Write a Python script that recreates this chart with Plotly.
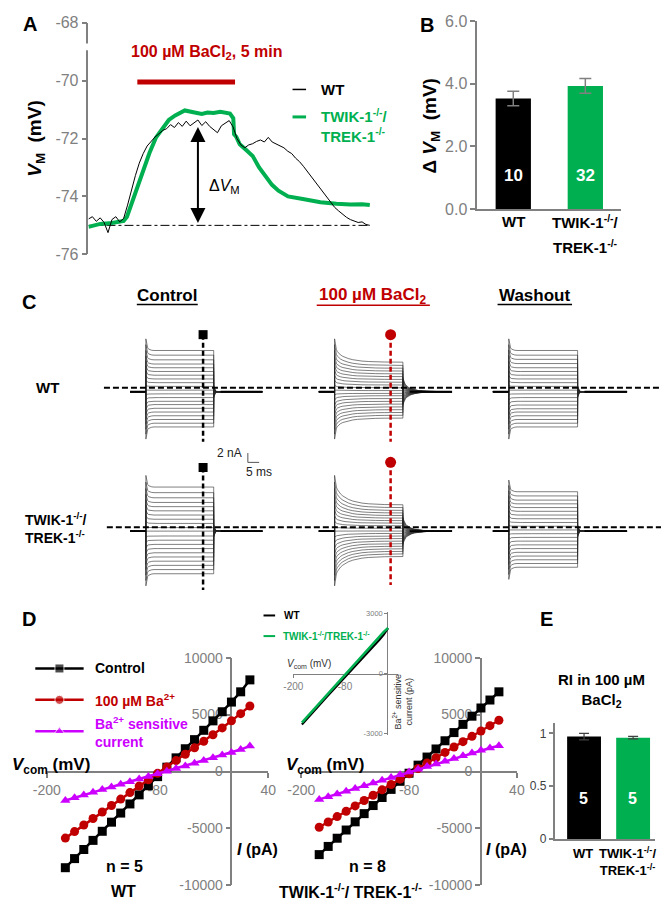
import plotly.graph_objects as go

W, H = 669, 913
def X(px): return px / W
def Y(py): return 1 - py / H

RED = '#C00000'; GREEN = '#00B050'; MAG = '#CC00FF'; GRAY = '#808080'
FONT = 'Liberation Sans, Arial, sans-serif'

# ---------------- Panel A data (membrane potential, mV vs time, min) ----------------
wt_t = [round(i * 0.2, 1) for i in range(73)]
wt_vm = [-74.78, -74.70, -74.86, -74.74, -74.90, -75.25, -74.80, -74.70, -74.88, -74.76,
         -74.30, -73.75, -73.28, -72.85, -72.52, -72.26, -72.10, -71.95, -71.84, -71.72,
         -71.66, -71.52, -71.62, -71.45, -71.58, -71.40, -71.56, -71.46, -71.36, -71.55,
         -71.42, -71.58, -71.70, -71.80, -71.56, -71.46, -71.38, -71.60, -72.00, -72.22,
         -72.32, -72.22, -72.18, -72.10, -72.05, -72.12, -71.96, -72.12, -72.18, -72.26,
         -72.32, -72.44, -72.52, -72.68, -72.80, -72.96, -73.14, -73.32, -73.50, -73.70,
         -73.88, -74.06, -74.22, -74.38, -74.50, -74.62, -74.72, -74.80, -74.84, -74.90,
         -74.88, -74.97, -75.00]
ko_t = [0, 0.6, 1.2, 1.8, 1.97, 2.13, 2.46, 2.79, 3.12, 3.45, 3.78, 4.11, 4.44, 4.93, 5.43,
        5.8, 6.09, 6.4, 6.75, 7.0, 7.24, 7.41, 7.45, 7.57, 7.74, 8.07, 8.4, 8.73, 9.06, 9.39,
        9.72, 10.21, 11.04, 11.87, 12.69, 13.4, 14.0, 14.4]
ko_vm = [-75.05, -74.95, -74.92, -74.85, -74.70, -74.40, -73.75, -73.10, -72.50, -71.97,
         -71.64, -71.36, -71.20, -71.03, -71.10, -71.15, -71.10, -71.12, -71.08, -71.12,
         -71.14, -71.30, -71.85, -71.95, -72.20, -72.40, -72.60, -73.00, -73.30, -73.60,
         -73.80, -74.00, -74.10, -74.20, -74.25, -74.28, -74.27, -74.30]
a_baseline_mV = -75.0
ba_application_min = [2.5, 7.5]
ba_bar_level = -70.05
dv_time_min = 5.6
dv_peak_mV = -71.55

# ---------------- Panel B data ----------------
b_vals = [3.53, 3.93]
b_err = [0.23, 0.235]
b_n = ['10', '32']

# ---------------- Panel C data (representative sweeps, nA) ----------------
holding_nA = -0.85
step_on_ms, step_off_ms, sweep_end_ms = 7.0, 37.0, 58.6
wt_ctrl_nA = [-8.4, -7.6, -6.8, -6.0, -5.2, -4.4, -3.6, -2.9, -2.1, -1.3, -0.5, 0.3, 1.1, 1.9, 2.7, 3.5, 4.3, 5.1, 6.0, 7.0, 8.0]
wt_ba_nA = [-6.5, -5.9, -5.3, -4.7, -4.1, -3.5, -2.9, -2.3, -1.7, -1.2, -0.6, 0.0, 0.6, 1.2, 1.8, 2.4, 3.0, 3.6, 4.2, 4.8, 5.5]
wt_wash_nA = [-8.4, -7.6, -6.8, -6.0, -5.2, -4.5, -3.7, -2.9, -2.1, -1.3, -0.5, 0.3, 1.1, 1.9, 2.7, 3.5, 4.3, 5.2, 6.1, 7.0, 8.0]
ko_ctrl_nA = [-10.0, -9.1, -8.2, -7.3, -6.4, -5.5, -4.6, -3.7, -2.8, -1.9, -1.0, -0.1, 0.8, 1.7, 2.6, 3.5, 4.4, 5.3, 6.3, 7.4, 8.6]
ko_ba_nA = [-6.3, -5.75, -5.2, -4.65, -4.1, -3.55, -3.0, -2.45, -1.9, -1.35, -0.8, -0.25, 0.3, 0.85, 1.4, 1.95, 2.5, 3.05, 3.6, 4.2, 4.8]
ko_wash_nA = [-8.6, -7.8, -7.0, -6.2, -5.4, -4.6, -3.8, -3.0, -2.2, -1.4, -0.6, 0.2, 1.0, 1.8, 2.6, 3.4, 4.2, 5.0, 5.8, 6.7, 7.6]
cap_peak_nA = [-2.6, -2.34, -2.08, -1.82, -1.56, -1.3, -1.04, -0.78, -0.52, -0.26, 0.0, 0.25, 0.5, 0.75, 1.0, 1.25, 1.5, 1.75, 2.0, 2.25, 2.5]
step_t = [0, 0.25, 0.5, 0.8, 1.2, 1.8, 2.6, 3.6, 5, 6, 8, 10, 12, 15, 18, 22, 30]
cap_frac = [1, 0.6, 0.38, 0.22, 0.12, 0.06, 0.02, 0, 0, 0, 0, 0, 0, 0, 0, 0, 0]
ba_frac = [1, 0.95, 0.9, 0.85, 0.79, 0.7, 0.6, 0.5, 0.38, 0.31, 0.21, 0.14, 0.095, 0.055, 0.03, 0.012, 0]
no_frac = [0] * 17
tail_t = [0, 0.25, 0.5, 0.8, 1.2, 1.8, 2.6, 3.6, 5, 7, 9, 12, 15, 18, 21.6]
tail_frac_ctrl = [1, 0.55, 0.3, 0.15, 0.07, 0.02, 0, 0, 0, 0, 0, 0, 0, 0, 0]
tail_frac_ba = [1, 0.85, 0.74, 0.62, 0.5, 0.4, 0.3, 0.22, 0.14, 0.08, 0.045, 0.02, 0.008, 0.002, 0]
tail_gain_ctrl, tail_gain_ba = -0.5, -1.15
iv_time_ms = 32.3

# ---------------- Panel D data (I-V, pA) ----------------
v_com = [-180, -170, -160, -150, -140, -130, -120, -110, -100, -90, -80, -70, -60, -50, -40, -30, -20, -10, 0, 10, 20]
wt_ctrl_pA = [-8450, -7650, -6850, -6050, -5250, -4450, -3650, -2850, -2050, -1250, -450, 380, 1200, 2000, 2800, 3620, 4450, 5250, 6100, 7000, 8050]
wt_ba_pA = [-5850, -5280, -4700, -4130, -3560, -2990, -2420, -1850, -1280, -720, -160, 400, 960, 1520, 2080, 2650, 3230, 3830, 4450, 5080, 5750]
wt_sens_pA = [-2550, -2300, -2060, -1820, -1580, -1350, -1120, -890, -660, -430, -200, 30, 260, 490, 720, 960, 1200, 1440, 1680, 1930, 2250]
ko_ctrl_pA = [-7300, -6580, -5860, -5140, -4420, -3700, -2990, -2280, -1570, -860, -150, 560, 1270, 1980, 2700, 3420, 4140, 4860, 5580, 6280, 7000]
ko_ba_pA = [-4900, -4430, -3960, -3490, -3020, -2550, -2080, -1610, -1140, -670, -200, 270, 740, 1210, 1680, 2150, 2620, 3090, 3560, 4030, 4500]
ko_sens_pA = [-2450, -2210, -1970, -1730, -1490, -1250, -1010, -770, -530, -290, -50, 190, 430, 670, 910, 1150, 1390, 1630, 1870, 2070, 2260]

# ---------------- Panel E data ----------------
e_vals = [0.97, 0.96]
e_err = [0.03, 0.012]
e_n = ['5', '5']

fig = go.Figure()

# ---- Panel A ----
fig.add_trace(go.Scatter(x=[0, wt_t[-1]], y=[a_baseline_mV, a_baseline_mV], mode='lines',
                         line=dict(color='black', width=1, dash='dashdot'), xaxis='x', yaxis='y'))
fig.add_trace(go.Scatter(x=ko_t, y=ko_vm, mode='lines', line=dict(color=GREEN, width=4), xaxis='x', yaxis='y'))
fig.add_trace(go.Scatter(x=wt_t, y=wt_vm, mode='lines', line=dict(color='black', width=1), xaxis='x', yaxis='y'))
fig.add_trace(go.Scatter(x=ba_application_min, y=[ba_bar_level] * 2, mode='lines',
                         line=dict(color=RED, width=5), xaxis='x', yaxis='y'))

# ---- Panel B ----
fig.add_trace(go.Bar(x=[0, 1], y=b_vals, width=0.49, marker=dict(color=['black', GREEN], line=dict(width=0)),
                     error_y=dict(type='data', array=b_err, color=GRAY, thickness=1.5, width=6),
                     xaxis='x2', yaxis='y2'))

# ---- Panel C ----
def sweep_family(steady, initial, step_frac, tail_gain, tail_frac):
    xs, ys = [], []
    for i in range(len(steady)):
        xs += [0, step_on_ms]
        ys += [holding_nA, holding_nA]
        for t, fc, fb in zip(step_t, cap_frac, step_frac):
            xs.append(step_on_ms + t)
            ys.append(steady[i] + (initial[i] - steady[i]) * fb + cap_peak_nA[i] * fc)
        for t, ft in zip(tail_t, tail_frac):
            xs.append(step_off_ms + t)
            ys.append(holding_nA + tail_gain * cap_peak_nA[i] * ft)
        xs.append(None); ys.append(None)
    return xs, ys

families = [
    ('x3', 'y3', wt_ctrl_nA, wt_ctrl_nA, no_frac, tail_gain_ctrl, tail_frac_ctrl),
    ('x4', 'y4', wt_ba_nA, wt_ctrl_nA, ba_frac, tail_gain_ba, tail_frac_ba),
    ('x5', 'y5', wt_wash_nA, wt_wash_nA, no_frac, tail_gain_ctrl, tail_frac_ctrl),
    ('x6', 'y6', ko_ctrl_nA, ko_ctrl_nA, no_frac, tail_gain_ctrl, tail_frac_ctrl),
    ('x7', 'y7', ko_ba_nA, ko_ctrl_nA, ba_frac, tail_gain_ba, tail_frac_ba),
    ('x8', 'y8', ko_wash_nA, ko_wash_nA, no_frac, tail_gain_ctrl, tail_frac_ctrl),
]
for xa, ya, st, ini, sf, tg, tf in families:
    xs, ys = sweep_family(st, ini, sf, tg, tf)
    fig.add_trace(go.Scatter(x=xs, y=ys, mode='lines', line=dict(color='#2a2a2a', width=0.6),
                             xaxis=xa, yaxis=ya))
    fig.add_trace(go.Scatter(x=[0, step_on_ms, None, step_off_ms + 3, sweep_end_ms],
                             y=[holding_nA, holding_nA, None, holding_nA, holding_nA], mode='lines',
                             line=dict(color='black', width=1.8), xaxis=xa, yaxis=ya))

# IV measurement markers (vertical dashed lines)
markers = [('x3', 'y3', 11.4, -11.6, 'square', 'black'),
           ('x4', 'y4', 11.4, -11.6, 'circle', RED),
           ('x6', 'y6', 12.8, -13.5, 'square', 'black'),
           ('x7', 'y7', 13.9, -12.4, 'circle', RED)]
for xa, ya, top, bot, sym, col in markers:
    tt = iv_time_ms if sym == 'square' else iv_time_ms - 0.7
    fig.add_trace(go.Scatter(x=[tt, tt], y=[top, bot], mode='lines',
                             line=dict(color=col, width=2.5, dash='5px,3px'), xaxis=xa, yaxis=ya))
    fig.add_trace(go.Scatter(x=[tt], y=[top], mode='markers', cliponaxis=False,
                             marker=dict(symbol=sym, size=11 if sym == 'circle' else 9, color=col),
                             xaxis=xa, yaxis=ya))

# scale bar: 2 nA, 5 ms
fig.add_trace(go.Scatter(x=[52.1, 52.1, 57.1], y=[-14.0, -16.0, -16.0], mode='lines',
                         line=dict(color='#555', width=1), xaxis='x3', yaxis='y3'))

# ---- Panel D ----
for xa, ya, c, b, s in [('x9', 'y9', wt_ctrl_pA, wt_ba_pA, wt_sens_pA),
                        ('x10', 'y10', ko_ctrl_pA, ko_ba_pA, ko_sens_pA)]:
    fig.add_trace(go.Scatter(x=v_com, y=c, mode='lines+markers', line=dict(color='black', width=2.5),
                             marker=dict(symbol='square', size=9, color='black'), xaxis=xa, yaxis=ya, cliponaxis=False))
    fig.add_trace(go.Scatter(x=v_com, y=b, mode='lines+markers', line=dict(color=RED, width=2.5),
                             marker=dict(symbol='circle', size=9, color=RED), xaxis=xa, yaxis=ya, cliponaxis=False))
    fig.add_trace(go.Scatter(x=v_com, y=s, mode='lines+markers', line=dict(color=MAG, width=2.5),
                             marker=dict(symbol='triangle-up', size=9, color=MAG), xaxis=xa, yaxis=ya, cliponaxis=False))

# inset
fig.add_trace(go.Scatter(x=v_com, y=wt_sens_pA, mode='lines', line=dict(color='black', width=2.2),
                         xaxis='x11', yaxis='y11'))
fig.add_trace(go.Scatter(x=v_com, y=ko_sens_pA, mode='lines', line=dict(color=GREEN, width=2.5),
                         xaxis='x11', yaxis='y11'))

# ---- Panel E ----
fig.add_trace(go.Bar(x=[0, 1], y=e_vals, width=0.69, marker=dict(color=['black', GREEN], line=dict(width=0)),
                     error_y=dict(type='data', array=e_err, color='#404040', thickness=1.2, width=5),
                     xaxis='x12', yaxis='y12'))

# ---- Legend glyphs (overlay axis in pixel units) ----
def leg_line(x0, x1, y, col, w, sym=None):
    if sym:
        fig.add_trace(go.Scatter(x=[x0, (x0 + x1) / 2, x1], y=[y, y, y], mode='lines+markers',
                                 line=dict(color=col, width=w),
                                 marker=dict(symbol=sym, size=[0, 9, 0], color=col),
                                 xaxis='x13', yaxis='y13'))
    else:
        fig.add_trace(go.Scatter(x=[x0, x1], y=[y, y], mode='lines', line=dict(color=col, width=w),
                                 xaxis='x13', yaxis='y13'))

leg_line(288, 302, 83, 'black', 1.5)
leg_line(288, 302, 111, GREEN, 3)
leg_line(22, 72, 673, 'black', 2.5, 'square')
leg_line(22, 72, 705, RED, 2.5, 'circle')
leg_line(22, 72, 737, MAG, 2.5, 'triangle-up')
leg_line(258, 270, 619, 'black', 2)
leg_line(258, 270, 640, GREEN, 2)

# ---------------- Layout ----------------
def hidden(domain, rng, anchor):
    return dict(domain=domain, range=rng, visible=False, anchor=anchor, fixedrange=True)

def vis_axis(**kw):
    d = dict(showline=True, linecolor=GRAY, linewidth=1.5, ticks='outside', ticklen=5, tickcolor=GRAY,
             tickwidth=1.5, showgrid=False, zeroline=False, fixedrange=True)
    d.update(kw)
    return d

wt_row = [Y(480), Y(325)]
ko_row = [Y(598), Y(458)]
wt_rng = [-(480 - 387) / 4.75, (387 - 325) / 4.75]
ko_rng = [-(598 - 529) / 4.75, (529 - 458) / 4.75]
cols = [[X(120), X(257)], [X(315), X(453)], [X(495), X(634)]]

layout = dict(
    width=W, height=H, margin=dict(l=0, r=0, t=0, b=0), showlegend=False,
    paper_bgcolor='white', plot_bgcolor='rgba(0,0,0,0)',
    font=dict(family=FONT, color='black'),
    xaxis=hidden([X(77), X(368)], [0, 14.4], 'y'),
    yaxis=vis_axis(domain=[Y(251), Y(15)], range=[-76, -68], anchor='x',
                   tickvals=[-76, -74, -72, -70, -68], ticktext=['-76', '-74', '-72', '-70', '-68'],
                   tickfont=dict(size=16, color=GRAY)),
    xaxis2=vis_axis(domain=[X(479), X(628)], range=[-0.5, 1.5], anchor='y2', ticks='', showticklabels=False),
    yaxis2=vis_axis(domain=[Y(205), Y(13.3)], range=[0, 6], anchor='x2',
                    tickvals=[0, 2, 4, 6], ticktext=['0.0', '2.0', '4.0', '6.0'],
                    tickfont=dict(size=16, color=GRAY)),
    xaxis3=hidden(cols[0], [0, sweep_end_ms], 'y3'), yaxis3=hidden(wt_row, wt_rng, 'x3'),
    xaxis4=hidden(cols[1], [0, sweep_end_ms], 'y4'), yaxis4=hidden(wt_row, wt_rng, 'x4'),
    xaxis5=hidden(cols[2], [0, sweep_end_ms], 'y5'), yaxis5=hidden(wt_row, wt_rng, 'x5'),
    xaxis6=hidden(cols[0], [0, sweep_end_ms], 'y6'), yaxis6=hidden(ko_row, ko_rng, 'x6'),
    xaxis7=hidden(cols[1], [0, sweep_end_ms], 'y7'), yaxis7=hidden(ko_row, ko_rng, 'x7'),
    xaxis8=hidden(cols[2], [0, sweep_end_ms], 'y8'), yaxis8=hidden(ko_row, ko_rng, 'x8'),
    xaxis9=vis_axis(domain=[X(34), X(263)], range=[-200, 40], anchor='free', position=Y(779),
                    tickvals=[-200, -80, 40], ticktext=['-200', '-80', '40'],
                    tickfont=dict(size=14, color=GRAY), layer='below traces'),
    yaxis9=vis_axis(domain=[Y(894), Y(662)], range=[-10000, 10000], anchor='free', position=X(224.8),
                    tickvals=[-10000, -5000, 0, 5000, 10000],
                    ticktext=['-10000', '-5000', '0', '5000', '10000'],
                    tickfont=dict(size=14, color=GRAY), layer='below traces'),
    xaxis10=vis_axis(domain=[X(297), X(520)], range=[-200, 40], anchor='free', position=Y(779),
                     tickvals=[-200, -80, 40], ticktext=['-200', '-80', '40'],
                     tickfont=dict(size=14, color=GRAY), layer='below traces'),
    yaxis10=vis_axis(domain=[Y(894), Y(662)], range=[-10000, 10000], anchor='free', position=X(482.8),
                     tickvals=[-10000, -5000, 0, 5000, 10000],
                     ticktext=['-10000', '-5000', '0', '5000', '10000'],
                     tickfont=dict(size=14, color=GRAY), layer='below traces'),
    xaxis11=vis_axis(domain=[X(288), X(397)], range=[-201.8, 43], anchor='free', position=Y(678.5),
                     tickvals=[-200, -80], ticktext=['-200', '-80'], ticklen=3, linewidth=1, tickwidth=1,
                     tickfont=dict(size=10, color=GRAY), layer='below traces'),
    yaxis11=vis_axis(domain=[Y(741), Y(615)], range=[-3080, 3080], anchor='free', position=X(386),
                     tickvals=[-3000, 0, 3000], ticktext=['-3000', '0', '3000'], ticklen=3, linewidth=1,
                     tickwidth=1, tickfont=dict(size=7.5, color=GRAY), layer='below traces'),
    xaxis12=vis_axis(domain=[X(559), X(663)], range=[-0.6, 1.45], anchor='y12', ticks='',
                     showticklabels=False),
    yaxis12=vis_axis(domain=[Y(846.7), Y(729)], range=[0, 1.095], anchor='x12',
                     tickvals=[0, 0.5, 1], ticktext=['0', '0.5', '1'], ticklen=4,
                     tickfont=dict(size=12, color='#404040')),
    xaxis13=hidden([0, 1], [0, W], 'y13'),
    yaxis13=hidden([0, 1], [H, 0], 'x13'),
)

ann = []
def T(px, py, text, size=14, color='black', xa='center', angle=0, ya='middle'):
    ann.append(dict(x=X(px), y=Y(py), xref='paper', yref='paper', text=text, showarrow=False,
                    font=dict(size=size, color=color, family=FONT), xanchor=xa, yanchor=ya,
                    align=xa, textangle=angle))

# letters
T(17, 16, '<b>A</b>', 20); T(427, 17, '<b>B</b>', 20); T(15, 300, '<b>C</b>', 20)
T(15, 623, '<b>D</b>', 20); T(551, 623, '<b>E</b>', 20)
# A
T(200, 45, '<b>100 µM BaCl<sub>2</sub>, 5 min</b>', 16, RED)
T(315, 83, '<b>WT</b>', 15, 'black', 'left')
T(315, 120, '<b>TWIK-1<sup>-/-</sup>/<br>TREK-1<sup>-/-</sup></b>', 15, GREEN, 'left')
T(22, 133, '<b><i>V</i><sub>M</sub>  (mV)</b>', 19, 'black', 'center', -90)
T(200, 182, 'Δ<i>V</i><sub>M</sub>', 16, 'black', 'left')
# B
T(431, 120, '<b>Δ <i>V</i><sub>M</sub>  (mV)</b>', 19, 'black', 'center', -90)
T(517, 218, '<b>WT</b>', 15); T(591, 218, '<b>TWIK-1<sup>-/-</sup>/</b>', 15)
T(591, 243, '<b>TREK-1<sup>-/-</sup></b>', 15)
T(517, 171, '<b>%s</b>' % b_n[0], 17, 'white'); T(591, 171, '<b>%s</b>' % b_n[1], 17, 'white')
# C
T(158, 293, '<b>Control</b>', 17); T(371, 293, '<b>100 µM BaCl<sub>2</sub></b>', 17, RED)
T(538, 293, '<b>Washout</b>', 17)
T(35, 387, '<b>WT</b>', 15)
T(9, 530, '<b>TWIK-1<sup>-/-</sup>/<br>TREK-1<sup>-/-</sup></b>', 14, 'black', 'left')
T(238, 453, '2 nA', 12, '#222', 'right'); T(253, 473, '5 ms', 12, '#222')
# D
T(82, 673, '<b>Control</b>', 14, 'black', 'left')
T(82, 705, '<b>100 µM Ba<sup>2+</sup></b>', 14, RED, 'left')
T(82, 738, '<b>Ba<sup>2+</sup> sensitive<br>current</b>', 14, MAG, 'left')
T(38, 772, '<b><i>V</i><sub>com</sub> (mV)</b>', 17); T(322, 772, '<b><i>V</i><sub>com</sub> (mV)</b>', 17)
T(252, 857, '<b><i>I</i> (pA)</b>', 16); T(509, 857, '<b><i>I</i> (pA)</b>', 16)
T(114, 875, '<b>n = 5</b>', 16); T(113, 900, '<b>WT</b>', 16)
T(366, 875, '<b>n = 8</b>', 16); T(348, 900, '<b>TWIK-1<sup>-/-</sup>/ TREK-1<sup>-/-</sup></b>', 16)
T(277, 619, '<b>WT</b>', 10, 'black', 'left')
T(276, 640, '<b>TWIK-1<sup>-/-</sup>/TREK-1<sup>-/-</sup></b>', 10, GREEN, 'left')
T(305, 668, '<i>V</i><sub>com</sub> (mV)', 10, '#333')
T(402, 707, 'Ba<sup>2+</sup> sensitive<br>current (pA)', 9, '#333', 'center', -90)
# E
T(607, 695, '<b>RI in 100 µM<br>BaCl<sub>2</sub></b>', 15)
T(589, 805, '<b>%s</b>' % e_n[0], 16, 'white'); T(640, 805, '<b>%s</b>' % e_n[1], 16, 'white')
T(588, 862, '<b>WT</b>', 13)
T(634, 870, '<b>TWIK-1<sup>-/-</sup>/<br>TREK-1<sup>-/-</sup></b>', 13)

# Delta V arrow in panel A data coordinates
ann.append(dict(x=dv_time_min, y=a_baseline_mV + 0.08, ax=dv_time_min, ay=dv_peak_mV, xref='x', yref='y',
                axref='x', ayref='y', text='', showarrow=True, arrowhead=2, startarrowhead=2,
                arrowside='end+start', arrowwidth=2, arrowsize=1.5, startarrowsize=1.5, arrowcolor='black'))
layout['annotations'] = ann

shapes = [
    # axis break in panel A
    dict(type='rect', xref='paper', yref='y', x0=X(72), x1=X(83), y0=-68.72, y1=-68.95,
         fillcolor='white', line=dict(width=0)),
    # zero-current dashed lines in C
    dict(type='line', xref='paper', yref='y3', x0=X(93), x1=1, y0=0, y1=0,
         line=dict(color='black', width=2, dash='6px,3px')),
    dict(type='line', xref='paper', yref='y6', x0=X(96), x1=1, y0=0, y1=0,
         line=dict(color='black', width=2, dash='6px,3px')),
    # underlines of column titles
    dict(type='line', xref='paper', yref='paper', x0=X(127), x1=X(190), y0=Y(302), y1=Y(302),
         line=dict(color='black', width=1.5)),
    dict(type='line', xref='paper', yref='paper', x0=X(313), x1=X(430), y0=Y(303), y1=Y(303),
         line=dict(color=RED, width=1.5)),
    dict(type='line', xref='paper', yref='paper', x0=X(500), x1=X(577), y0=Y(302), y1=Y(302),
         line=dict(color='black', width=1.5)),
]
layout['shapes'] = shapes

fig.update_layout(**layout)
fig.write_html('out.html', config={'displayModeBar': False},
               post_script="document.body.style.margin='0';document.body.style.overflow='hidden';")
